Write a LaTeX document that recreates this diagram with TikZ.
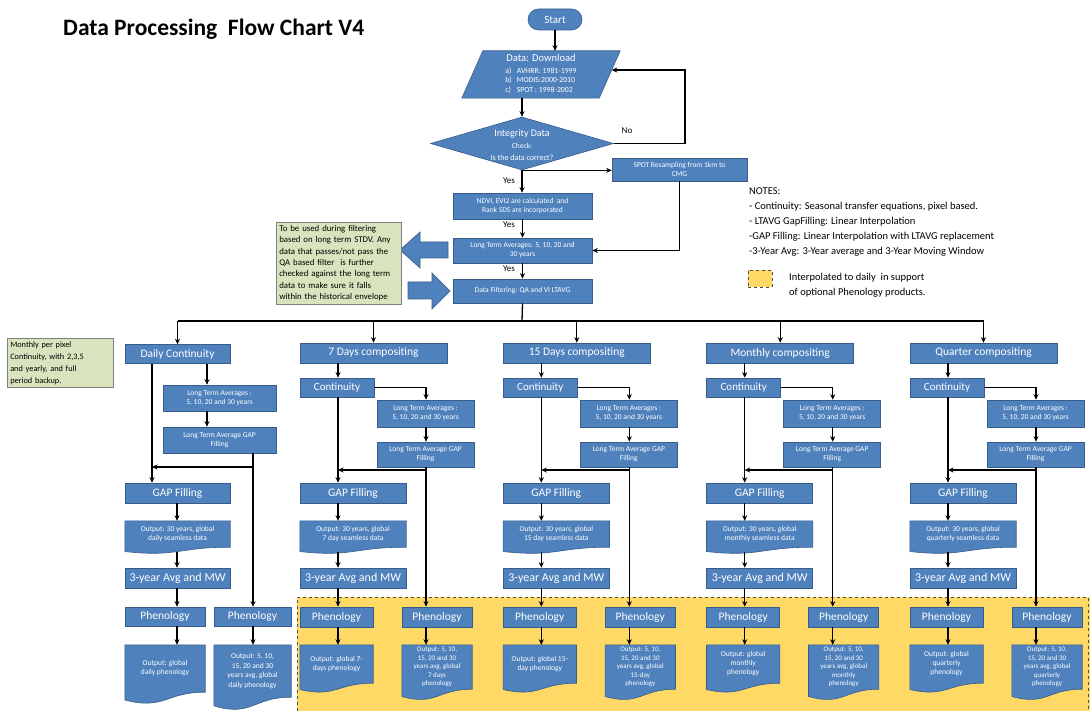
\documentclass[tikz,border=0pt]{standalone}
\usepackage{fontspec}
\setmainfont{Carlito}
\usetikzlibrary{arrows.meta,calc,backgrounds,shapes.geometric,shapes.misc}
\definecolor{blk}{HTML}{4F81BD}
\definecolor{blkb}{HTML}{385D8A}
\definecolor{notegreen}{HTML}{D7E4BD}
\definecolor{noteborder}{HTML}{7F7F7F}
\definecolor{yel}{HTML}{FFD966}
\newcommand\fs[2]{\fontsize{#1}{#2}\selectfont}
\newcommand\docshape[1]{%
  \path[docsh] (#1.north west) -- (#1.north east) -- (#1.south east)
    .. controls (#1.south) and ($(#1.south)!-0.381!(#1.north)$) ..
    ($(#1.south west)!-0.165!(#1.north west)$) -- cycle;}
\tikzset{
  box/.style={rectangle, fill=blk, draw=blkb, line width=0.6pt, text=white, inner sep=1pt, align=center},
  txt/.style={rectangle, text=white, inner sep=1pt, align=center},
  docsh/.style={fill=blk, draw=blkb, line width=0.6pt},
  arr/.style={-{Stealth[length=5.5pt,width=5pt]}, line width=1.3pt},
  ln/.style={line width=1.3pt},
  note/.style={rectangle, fill=notegreen, draw=noteborder, line width=0.5pt, align=left, inner sep=3pt, anchor=north west},
  lbl/.style={text=black, inner sep=1pt, font=\fs{9}{10}},
  bigf/.style={font=\fs{11.5}{13}},
  smallf/.style={font=\fs{7.5}{9}},
  blockarrow/.style={fill=blk, draw=blkb, line width=0.6pt},
}
\begin{document}
\begin{tikzpicture}[x=1pt,y=-1pt]
\useasboundingbox (0,0) rectangle (1090,711);

% background and yellow region
\begin{scope}[on background layer]
  \fill[white] (0,0) rectangle (1090,711);
  \fill[yel] (297,597) rectangle (1090,711);
  \draw[dashed, gray!60!black, line width=0.7pt] (297,711) -- (297,597) -- (1088,597) -- (1088,711);
\end{scope}

% title
\node[anchor=west, inner sep=0, font=\fs{23.5}{27}\bfseries] (title) at (63,29) {Data Processing\ \ Flow Chart V4};

% top flow
\node[rounded rectangle, fill=blk, draw=blkb, line width=0.6pt, text=white, minimum width=56pt, minimum height=21pt, inner sep=1pt, font=\fs{11}{13}] (start) at (555,19.5) {Start};

\node[txt, minimum width=137pt, minimum height=47pt] (dl) at (541,74.5)
  {{\fs{10.5}{12}Data: Download}\\[0.5pt]\fs{7.8}{9.3}\begin{tabular}[t]{@{}l@{\hspace{5pt}}l@{}}a) & AVHRR: 1981-1999\\ b) & MODIS:2000-2010\\ c) & SPOT : 1998-2002\end{tabular}};
\begin{scope}[on background layer]
  \path[docsh] ($(dl.north west)+(10.5,0)$) -- ($(dl.north east)+(10.5,0)$) -- ($(dl.south east)+(-10.5,0)$) -- ($(dl.south west)+(-10.5,0)$) -- cycle;
\end{scope}

\node[diamond, fill=blk, draw=blkb, line width=0.6pt, minimum width=183pt, minimum height=53pt, inner sep=0pt] (chk) at (522,143.5) {};
\node[txt] (chkt) at (522,145) {{\fs{10}{11}Integrity Data}\\{\fs{7.5}{9}Check:}\\{\fs{8}{9}Is the data correct?}};

\node[box, minimum width=135pt, minimum height=23pt, smallf] (spot) at (679.5,169.5) {SPOT Resampling from 1km to\\CMG};
\node[box, minimum width=139pt, minimum height=26pt, smallf] (ndvi) at (522.5,206) {NDVI, EVI2 are calculated\ \ and\\Rank SDS are incorporated};
\node[box, minimum width=139pt, minimum height=25pt, smallf] (lta) at (522.5,250.5) {Long Term Averages: 5, 10, 20 and\\30 years};
\node[box, minimum width=139pt, minimum height=24pt, smallf] (df) at (522.5,291) {Data Filtering: QA and VI LTAVG};

\node[lbl] (no) at (627,131) {No};
\node[lbl] (yes1) at (509,181) {Yes};
\node[lbl] (yes2) at (509,225) {Yes};
\node[lbl] (yes3) at (509,269) {Yes};

\coordinate (loopc) at (685,143.5);
\draw[arr] (start.south) -- (start.south |- dl.north);
\draw[arr] (dl.south -| chk.north) -- (chk.north);
\draw[arr] (chk.east) -- (loopc) |- ($(dl.east)+(2,-4.5)$);
\draw[arr] (chk.south) -- (ndvi.north -| chk.south);
\draw[arr] (chk.south) -- (chk.south -| spot.west);
\draw[arr] (ndvi.south) -- (lta.north);
\draw[arr] (lta.south) -- (df.north);
\draw[arr] (spot.south) |- (lta.east);

% block arrows
\path[blockarrow] (448,242) -- (420,242) -- (420,232) -- (400,250) -- (420,268) -- (420,258) -- (448,258) -- cycle;
\path[blockarrow] (408,282) -- (432,282) -- (432,273) -- (450,291) -- (432,309) -- (432,299) -- (408,299) -- cycle;

% notes
\node[note, text width=119pt, font=\fs{8.8}{11.4}] (gn1) at (276,222) {To be used during filtering\\based on long term STDV. Any\\data that passes/not pass the\\QA based filter\ \ is further\\checked against the long term\\data to make sure it falls\\within the historical envelope};
\node[note, text width=100pt, font=\fs{8.3}{12}] (gn2) at (7,338) {Monthly per pixel\\Continuity, with 2,3,5\\and yearly, and full\\period backup.};

\node[anchor=north west, align=left, inner sep=0pt, font=\fs{10.5}{15.2}] (notes) at (749,187) {NOTES:\\- Continuity: Seasonal transfer equations, pixel based.\\- LTAVG GapFilling: Linear Interpolation\\-GAP Filling: Linear Interpolation with LTAVG replacement\\-3-Year Avg: 3-Year average and 3-Year Moving Window};
\node[fill=yel, draw=gray!60!black, dashed, line width=0.6pt, minimum width=24pt, minimum height=17pt, inner sep=0pt] (sw) at (760,278.5) {};
\node[anchor=west, align=left, inner sep=0pt, font=\fs{10.5}{15}] (swt) at (789,285) {Interpolated to daily\ \ in support\\of optional Phenology products.};

% daily column
\node[box, minimum width=105pt, minimum height=19pt, bigf] (hd0) at (177.5,354) {Daily Continuity};
\node[box, minimum width=113pt, minimum height=26pt, smallf] (lta0) at (219.5,398) {Long Term Averages :\\5, 10, 20 and 30 years};
\node[box, minimum width=113pt, minimum height=26pt, smallf] (gf0) at (219.5,440) {Long Term Average GAP\\Filling};
\node[box, minimum width=105pt, minimum height=20pt, bigf] (gap0) at (177.5,493) {GAP Filling};
\node[txt, minimum width=105pt, minimum height=26pt, smallf] (oa0) at (177.5,534) {Output: 30 years, global\\daily seamless data};
\node[box, minimum width=105pt, minimum height=20pt, font=\fs{12}{14}] (avg0) at (177.5,578) {3-year Avg and MW};
\node[box, minimum width=80pt, minimum height=19pt, bigf] (pa0) at (165,616.5) {Phenology};
\node[txt, minimum width=80pt, minimum height=47pt, smallf] (ob0) at (165,668.5) {Output: global\\daily phenology};
\node[box, minimum width=77pt, minimum height=19pt, bigf] (pb0) at (252.5,616.5) {Phenology};
\node[txt, minimum width=77pt, minimum height=52pt, font=\fs{7.5}{9.5}] (oc0) at (252.5,671) {Output: 5, 10,\\15, 20 and 30\\years avg, global\\daily phenology};
\begin{scope}[on background layer]
  \docshape{oa0}\docshape{ob0}\docshape{oc0}
\end{scope}
\coordinate (d0a) at (152,0);
\coordinate (d0b) at (207,0);
\coordinate (d0c) at (253,0);
\coordinate (d0s) at (177,0);
\coordinate (j0) at (253,467);
\draw[arr] (hd0.south -| d0a) -- (gap0.north -| d0a);
\draw[arr] (hd0.south -| d0b) -- (lta0.north -| d0b);
\draw[arr] (lta0.south -| d0b) -- (gf0.north -| d0b);
\draw[arr] (gf0.south -| d0c) -- (pb0.north -| d0c);
\draw[arr] (j0) -- (j0 -| d0a);
\draw[arr] (gap0.south -| d0s) -- (oa0.north -| d0s);
\draw[arr] ($(oa0.south -| d0s)+(0,5)$) -- (avg0.north -| d0s);
\draw[arr] (avg0.south -| d0s) -- (pa0.north -| d0s);
\draw[arr] (pa0.south -| d0s) -- (ob0.north -| d0s);
\draw[arr] (pb0.south -| d0c) -- (oc0.north -| d0c);

% compositing columns
\foreach \i/\dx/\cHd/\cOa/\cOb/\cOc in {
 1/0/{7 Days compositing}/{Output: 30 years, global\\7 day seamless data}/{Output: global 7-\\days phenology}/{Output: 5, 10,\\15, 20 and 30\\years avg, global\\7 days\\phenology},
 2/203.3/{15 Days compositing}/{Output: 30 years, global\\15 day seamless data}/{Output: global 15-\\day phenology}/{Output: 5, 10,\\15, 20 and 30\\years avg, global\\15-day\\phenology},
 3/406.7/{Monthly compositing}/{Output: 30 years, global\\monthly seamless data}/{Output: global\\monthly\\phenology}/{Output: 5, 10,\\15, 20 and 30\\years avg, global\\monthly\\phenology},
 4/610/{Quarter compositing}/{Output: 30 years, global\\quarterly seamless data}/{Output: global\\quarterly\\phenology}/{Output: 5, 10,\\15, 20 and 30\\years avg, global\\quarterly\\phenology}}
{
  \node[box, minimum width=147pt, minimum height=20pt, bigf] (hd\i) at (373.5+\dx,353) {\cHd};
  \node[box, minimum width=74pt, minimum height=19pt, font=\fs{11}{13}] (ct\i) at (337+\dx,387.5) {Continuity};
  \node[box, minimum width=97pt, minimum height=27pt, smallf] (lta\i) at (425.5+\dx,413.5) {Long Term Averages :\\5, 10, 20 and 30 years};
  \node[box, minimum width=97pt, minimum height=25pt, smallf] (gf\i) at (425.5+\dx,454.5) {Long Term Average GAP\\Filling};
  \node[box, minimum width=106pt, minimum height=20pt, bigf] (gap\i) at (353+\dx,493) {GAP Filling};
  \node[txt, minimum width=106pt, minimum height=26pt, smallf] (oa\i) at (353+\dx,534) {\cOa};
  \node[box, minimum width=106pt, minimum height=20pt, font=\fs{12}{14}] (avg\i) at (353+\dx,578) {3-year Avg and MW};
  \node[box, minimum width=73pt, minimum height=20pt, bigf] (pa\i) at (336.5+\dx,617) {Phenology};
  \node[txt, minimum width=73pt, minimum height=38pt, smallf] (ob\i) at (336.5+\dx,664) {\cOb};
  \node[box, minimum width=70pt, minimum height=20pt, bigf] (pb\i) at (437+\dx,617) {Phenology};
  \node[txt, minimum width=70pt, minimum height=44pt, font=\fs{7}{8.5}] (oc\i) at (437+\dx,667) {\cOc};
  \begin{scope}[on background layer]
    \docshape{oa\i}\docshape{ob\i}\docshape{oc\i}
  \end{scope}
  \coordinate (sp\i) at (338+\dx,0);
  \coordinate (br\i) at (426+\dx,0);
  \coordinate (jn\i) at (426+\dx,470);
  \draw[arr] (hd\i.south -| sp\i) -- (ct\i.north -| sp\i);
  \draw[arr] (ct\i.east) -| (lta\i.north -| br\i);
  \draw[arr] (lta\i.south -| br\i) -- (gf\i.north -| br\i);
  \draw[arr] (gf\i.south -| br\i) -- (pb\i.north -| br\i);
  \draw[arr] (jn\i) -- (jn\i -| sp\i);
  \draw[arr] (ct\i.south -| sp\i) -- (gap\i.north -| sp\i);
  \draw[arr] (gap\i.south -| sp\i) -- (oa\i.north -| sp\i);
  \draw[arr] ($(oa\i.south -| sp\i)+(0,5)$) -- (avg\i.north -| sp\i);
  \draw[arr] (avg\i.south -| sp\i) -- (pa\i.north -| sp\i);
  \draw[arr] (pa\i.south -| sp\i) -- (ob\i.north -| sp\i);
  \draw[arr] (pb\i.south -| br\i) -- (oc\i.north -| br\i);
}

% bus
\coordinate (bus) at (522,321);
\draw[ln] (df.south) -- (bus);
\draw[ln] (hd0.north |- bus) -- (hd4.north |- bus);
\foreach \i in {0,...,4} {\draw[arr] (hd\i.north |- bus) -- (hd\i.north);}
\end{tikzpicture}
\end{document}
